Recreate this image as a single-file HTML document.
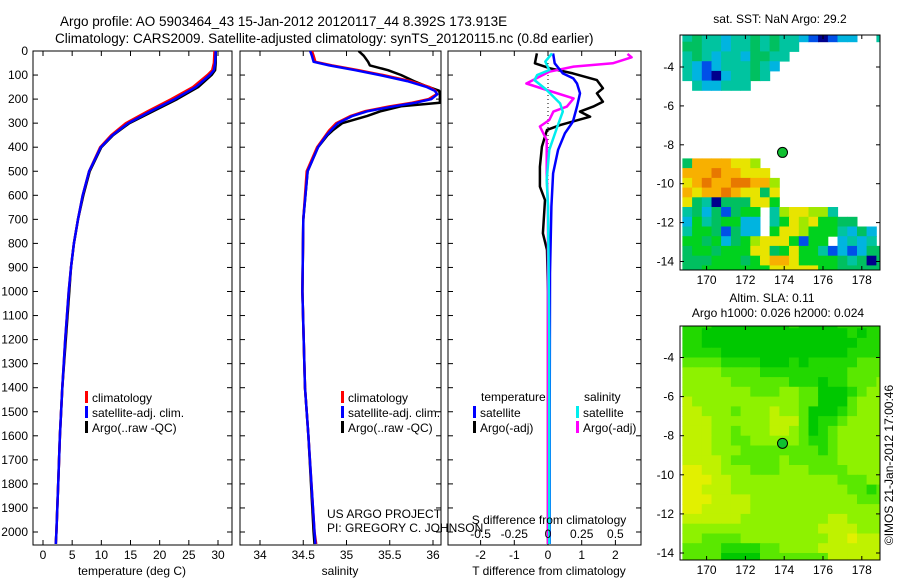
<!DOCTYPE html>
<html><head><meta charset="utf-8">
<style>
html,body{margin:0;padding:0;background:#fff;}
svg{display:block;font-family:"Liberation Sans",sans-serif;}
text{font-size:12px;fill:#000;}
</style></head>
<body>
<svg id="fig" width="900" height="580" viewBox="0 0 900 580" xmlns="http://www.w3.org/2000/svg">
<text x="60" y="26" style="font-size:13.5px">Argo profile: AO 5903464_43 15-Jan-2012 20120117_44 8.392S 173.913E</text>
<text x="55" y="43" style="font-size:13.5px">Climatology: CARS2009. Satellite-adjusted climatology: synTS_20120115.nc (0.8d earlier)</text>
<g id="g1"></g>
<g id="g2"></g>
<g id="g3"></g>
<g id="m1"></g>
<g id="m2"></g>
<text x="780" y="23" text-anchor="middle">sat. SST: NaN Argo: 29.2</text>
<text x="772" y="302" text-anchor="middle">Altim. SLA: 0.11</text>
<text x="778" y="317" text-anchor="middle">Argo h1000: 0.026 h2000: 0.024</text>
<text transform="translate(893,465) rotate(-90)" text-anchor="middle">©IMOS 21-Jan-2012 17:00:46</text>
</svg>
<script>
// ---------- profile data ----------
const tDepth = [0,50,80,100,150,200,250,300,350,400,500,600,700,800,900,1000,1200,1400,1600,1800,2000,2050];
const tArgo  = [29.6,29.6,29.5,28.9,26.6,23.0,18.9,14.8,12.0,10.0,8.0,6.9,6.0,5.3,4.8,4.5,3.9,3.3,2.9,2.6,2.3,2.2];
const tSat   = [29.6,29.5,29.3,28.6,26.2,22.6,18.5,14.6,11.9,9.9,7.9,6.8,6.0,5.3,4.8,4.4,3.8,3.3,2.9,2.6,2.3,2.2];
const tClim  = [29.4,29.3,29.0,28.2,25.7,22.0,18.0,14.2,11.7,9.8,7.9,6.8,6.0,5.3,4.8,4.4,3.8,3.3,2.9,2.6,2.3,2.2];

const sDepth = [0,20,45,60,80,100,125,150,165,180,200,215,230,250,270,300,330,350,400,500,700,1000,1400,1600,2000,2050];
const sArgo  = [35.14,35.2,35.25,35.27,35.48,35.63,35.78,35.95,36.07,36.08,36.08,36.08,35.63,35.4,35.24,34.95,34.84,34.78,34.67,34.55,34.5,34.49,34.52,34.56,34.62,34.63];
const sSat   = [34.58,34.6,34.62,34.8,35.1,35.38,35.7,35.93,36.02,36.05,35.98,35.8,35.55,35.25,35.07,34.9,34.82,34.77,34.67,34.55,34.5,34.49,34.52,34.56,34.63,34.64];
const sClim  = [34.6,34.62,34.64,34.83,35.14,35.42,35.74,35.96,36.03,36.04,35.95,35.76,35.5,35.22,35.05,34.88,34.8,34.76,34.66,34.54,34.5,34.49,34.52,34.56,34.63,34.65];

const dtDepth = [10,51,72,93,121,155,176,211,231,252,273,308,328,398,481,564,620,758,827,1000,1500,2050];
const dtArgo  = [-0.33,-0.39,0.06,0.74,1.45,1.63,1.45,1.63,1.34,0.95,1.25,0.36,-0.03,-0.18,-0.24,-0.24,-0.09,-0.15,-0.03,0.0,0.0,0.0];
const dtSatDepth = [10,51,93,114,135,176,231,294,342,411,509,647,924,1500,2050];
const dtSat   = [0.15,0.2,0.44,0.75,0.86,0.95,0.86,0.74,0.5,0.3,0.15,0.1,0.06,0.05,0.05];
const dsDepth = [12,26,51,65,86,135,162,197,231,252,287,314,370,509,647,1200,2050];
const dsArgo  = [0.59,0.62,0.48,0.19,0.01,-0.16,-0.01,0.19,0.14,0.04,0.01,-0.06,-0.01,-0.01,0.0,0.0,0.0];
const dsSatDepth = [10,44,79,100,121,162,218,252,314,411,536,647,1200,2050];
const dsSat   = [0.03,-0.02,0.01,-0.08,-0.1,-0.01,0.09,0.11,0.07,0.01,-0.01,0.0,0.01,0.01];

const depthTicks = [0,100,200,300,400,500,600,700,800,900,1000,1100,1200,1300,1400,1500,1600,1700,1800,1900,2000];
const tTicks = [0,5,10,15,20,25,30];
const sTicks = [34,34.5,35,35.5,36];
const sTickLabels = ["34","34.5","35","35.5","36"];
const dTTicks = [-2,-1,0,1,2];
const dSTicks = [-0.5,-0.25,0,0.25,0.5];
const dSTickLabels = ["-0.5","-0.25","0","0.25","0.5"];

// ---------- map data ----------
const sstLevels = {b:"#00008c",B:"#0050e8",c:"#00b4e0",t:"#00c4a0",g:"#00c060",G:"#00d21e",l:"#a0e800",y:"#e8e400",o:"#f8b000",r:"#e87800"};
const sstRows = [
"tgttcttgtgttcBbBcc..t",
"ggttcttgtgtt.........",
"tgtcttcggtt..........",
"tcBctttgtc...........",
"tcBbcttgt............",
".tccttt..............",
".....................",
".....................",
".....................",
".....................",
".....................",
".....................",
".....................",
"gooooyyl.............",
"ooorooyyy............",
"yoroorrool...........",
"oyooroyygy...........",
"ygtbgggyyG...........",
"tgcgBgGG.tlyyllt.....",
"cGtgGGcc.tGylyGGgg...",
"tGGgBgcc.GyylGGGtcgc.",
"GGgGcgGlyyyGBGG.ctct.",
"gGGgGGGyygGyGGtBcBcgg",
"gggGGGgGyooyGGGGgtgbg",
"ggGGGGGGGyyyyyGGggggg"];
const slaLevels = {"1":"#00c800","2":"#22d800","3":"#5ae800","4":"#8ef200","5":"#bff200","6":"#e2f000"};
const slaRows = [
"222111111112111122222","221111111111111112122","221111111111111111222","222211111111111112222",
"333322221112122222333","444433332222222223333","444443333332221223334","444444433344331112344",
"544444444444331113444","554443444544311123444","555444444555312234444","555443444554312344444",
"555443344444322344444","555444333333332344444","555543333343333344444","665544433344433334444",
"666554444444444433344","665554444444444443323","666555544444444444333","665555544444444444444",
"555555444444444554444","444444444444445555444","443333444444444556555","333322223344445555555",
"333311113333333555555"];
const argoLon = [173.913];
const argoLat = [-8.392];
const lonTicks = [170,172,174,176,178];
const latTicks = [-4,-6,-8,-10,-12,-14];

const NS="http://www.w3.org/2000/svg";
function mk(parent,tag,attrs){const e=document.createElementNS(NS,tag);for(const k in attrs)e.setAttribute(k,attrs[k]);parent.appendChild(e);return e;}

const Y0=51, PX100=24.05, YB=545;
const yD=d=>Y0+d*PX100/100;

function panel(g,x0,x1,name){
  const r=mk(g,'rect',{x:x0,y:Y0,width:x1-x0,height:YB-Y0,fill:'none',stroke:'#000','stroke-width':1});
  
  
  depthTicks.forEach(d=>{
    const y=yD(d);
    mk(g,'line',{x1:x0,y1:y,x2:x0+5,y2:y,stroke:'#000'});
    mk(g,'line',{x1:x1-5,y1:y,x2:x1,y2:y,stroke:'#000'});
  });
}
function xticks(g,xf,ticks,labels,yl){
  ticks.forEach((t,i)=>{
    const x=xf(t);
    mk(g,'line',{x1:x,y1:Y0,x2:x,y2:Y0+5,stroke:'#000'});
    mk(g,'line',{x1:x,y1:YB-5,x2:x,y2:YB,stroke:'#000'});
    const tx=mk(g,'text',{x:x,y:yl,'text-anchor':'middle'});
    tx.textContent=labels?labels[i]:String(t);
    
    
  });
}
function line(g,xf,vals,depths,color,name,w){
  const pts=vals.map((v,i)=>xf(v).toFixed(1)+','+yD(depths[i]).toFixed(1)).join(' ');
  const p=mk(g,'polyline',{points:pts,fill:'none',stroke:color,'stroke-width':w||2.5,'stroke-linejoin':'round'});
  
  
}
function legend(g,x,y,color,label){
  mk(g,'rect',{x:x,y:y-6,width:3,height:12,fill:color});
  const t=mk(g,'text',{x:x+7,y:y+5});
  t.textContent=label;
  
  
}

// Panel 1: temperature
const g1=document.getElementById('g1');
const xT=v=>43+v*175/30;
panel(g1,33,232,'temperature-axes');
depthTicks.forEach(d=>{const t=mk(g1,'text',{x:28,y:yD(d)+4,'text-anchor':'end'});t.textContent=String(d);

});
xticks(g1,xT,tTicks,null,559);
line(g1,xT,tArgo,tDepth,'#000','temperature-argo-line');
line(g1,xT,tClim,tDepth,'#f00','temperature-climatology-line');
line(g1,xT,tSat,tDepth,'#00f','temperature-satellite-line');
legend(g1,85,397,'#f00','climatology');
legend(g1,85,412,'#00f','satellite-adj. clim.');
legend(g1,85,427,'#000','Argo(..raw -QC)');
{const t=mk(g1,'text',{x:132,y:575,'text-anchor':'middle'});t.textContent='temperature (deg C)';

}

// Panel 2: salinity
const g2=document.getElementById('g2');
const xS=v=>260+(v-34)*86.5;
panel(g2,240,441,'salinity-axes');
xticks(g2,xS,sTicks,sTickLabels,559);
const cp=mk(g2,'clipPath',{id:'cp2'});mk(cp,'rect',{x:240,y:Y0,width:201,height:YB-Y0});
const g2c=mk(g2,'g',{'clip-path':'url(#cp2)'});
line(g2c,xS,sArgo,sDepth,'#000','salinity-argo-line');
line(g2c,xS,sClim,sDepth,'#f00','salinity-climatology-line');
line(g2c,xS,sSat,sDepth,'#00f','salinity-satellite-line');
legend(g2,341,397,'#f00','climatology');
legend(g2,341,412,'#00f','satellite-adj. clim.');
legend(g2,341,427,'#000','Argo(..raw -QC)');
{const t=mk(g2,'text',{x:340,y:575,'text-anchor':'middle'});t.textContent='salinity';


const a=mk(g2,'text',{x:327,y:518});a.textContent='US ARGO PROJECT';


const b=mk(g2,'text',{x:327,y:532});b.textContent='PI: GREGORY C. JOHNSON';

}

// Panel 3: differences
const g3=document.getElementById('g3');
const xDT=v=>548+v*33.7;
const xDS=v=>548+v*134.8;
panel(g3,448,641,'difference-axes');
xticks(g3,xDT,dTTicks,null,559);
mk(g3,'line',{x1:548,y1:Y0,x2:548,y2:YB,stroke:'#000','stroke-dasharray':'1,3'});
line(g3,xDT,dtArgo,dtDepth,'#000','t-diff-argo-line');
line(g3,xDS,dsArgo,dsDepth,'#f0f','s-diff-argo-line');
line(g3,xDT,dtSat,dtSatDepth,'#00f','t-diff-satellite-line');
line(g3,xDS,dsSat,dsSatDepth,'#0ee','s-diff-satellite-line');
dSTicks.forEach((s,i)=>{const t=mk(g3,'text',{x:xDS(s),y:538,'text-anchor':'middle'});t.textContent=dSTickLabels[i];

});
{const t=mk(g3,'text',{x:549,y:524,'text-anchor':'middle'});t.textContent='S difference from climatology';


const u=mk(g3,'text',{x:549,y:575,'text-anchor':'middle'});u.textContent='T difference from climatology';


const a=mk(g3,'text',{x:481,y:401});a.textContent='temperature';


const b=mk(g3,'text',{x:584,y:401});b.textContent='salinity';

}
legend(g3,473,412,'#00f','satellite');
legend(g3,473,427,'#000','Argo(-adj)');
legend(g3,576,412,'#0ee','satellite');
legend(g3,576,427,'#f0f','Argo(-adj)');

// Maps
function drawMap(id,top,bottom,yMinus4,ppdY,rows,levels,lat0){
  const g=document.getElementById(id);
  const L=680,R=880, ppd=19.4;
  const xl=lon=>706.6+(lon-170)*ppd;
  const yl=lat=>yMinus4+(-4-lat)*ppdY;
  const cp=mk(g,'clipPath',{id:'cp'+id});mk(cp,'rect',{x:L,y:top,width:R-L,height:bottom-top});
  const gc=mk(g,'g',{'clip-path':'url(#cp'+id+')'});
  rows.forEach((row,i)=>{
    for(let j=0;j<row.length;j++){
      const c=levels[row[j]];
      if(!c) continue;
      const lon=168.75+0.5*j, lat=lat0-0.5*i;
      const r=mk(gc,'rect',{x:xl(lon).toFixed(1),y:yl(lat).toFixed(1),width:(0.5*ppd+0.5).toFixed(1),height:(0.5*ppdY+0.5).toFixed(1),fill:c});
      
      
    }
  });
  const fr=mk(g,'rect',{x:L,y:top,width:R-L,height:bottom-top,fill:'none',stroke:'#000'});
  
  
  lonTicks.forEach(lo=>{const x=xl(lo);
    mk(g,'line',{x1:x,y1:top,x2:x,y2:top+4,stroke:'#000'});mk(g,'line',{x1:x,y1:bottom-4,x2:x,y2:bottom,stroke:'#000'});
    const t=mk(g,'text',{x:x,y:bottom+14,'text-anchor':'middle'});t.textContent=String(lo);
    
    });
  latTicks.forEach(la=>{const y=yl(la);
    mk(g,'line',{x1:L,y1:y,x2:L+4,y2:y,stroke:'#000'});mk(g,'line',{x1:R-4,y1:y,x2:R,y2:y,stroke:'#000'});
    const t=mk(g,'text',{x:674,y:y+4,'text-anchor':'end'});t.textContent=String(la);
    
    });
  argoLon.forEach((lo,i)=>{
    const c=mk(g,'circle',{cx:xl(lo),cy:yl(argoLat[i]),r:5,fill:'#10c030',stroke:'#000','stroke-width':1});
    
    
  });
}
drawMap('m1',35,270,67,19.45,sstRows,sstLevels,-2.2);
drawMap('m2',326,560,357.5,19.55,slaRows,slaLevels,-2.0);
</script>
</body></html>
